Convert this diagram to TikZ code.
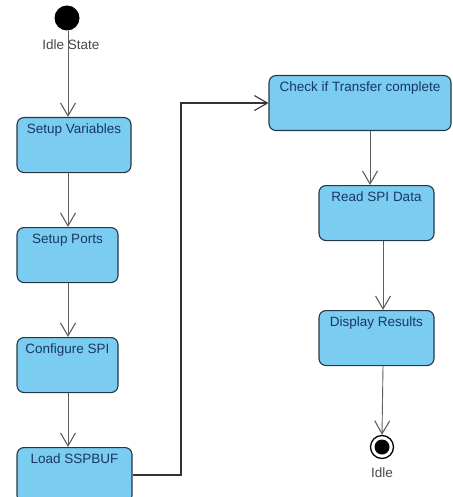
\documentclass[tikz,border=0pt]{standalone}
\usepackage{fontspec}
\setmainfont{Liberation Sans}
\usetikzlibrary{arrows.meta}
\definecolor{actfill}{RGB}{122,204,240}
\definecolor{actedge}{RGB}{40,55,70}
\definecolor{acttext}{RGB}{25,55,100}
\definecolor{flowgray}{RGB}{95,95,95}
\definecolor{labelgray}{RGB}{70,70,70}

\tikzset{
  activity/.style={draw=actedge, line width=1.1pt, fill=actfill, rounded corners=7pt,
    anchor=north, text=acttext, font=\fontsize{13.5}{15}\selectfont,
    inner xsep=2pt, inner ysep=0pt, text height=16pt, text depth=39pt,
    minimum width=#1},
  tip/.style={-{Straight Barb[length=13pt,width=15pt,line width=1.1pt]}},
  flow/.style={draw=flowgray, line width=0.9pt, tip},
  transfer/.style={draw=black!80, line width=1.1pt, tip},
  caption/.style={text=labelgray, font=\fontsize{13.5}{15}\selectfont},
  initial/.style={circle, fill=black, minimum size=25pt, inner sep=0pt},
  finalring/.style={circle, draw=black, line width=1.3pt, fill=white, minimum size=23pt, inner sep=0pt},
  finaldot/.style={circle, fill=black, minimum size=15pt, inner sep=0pt}
}

\begin{document}
\begin{tikzpicture}[x=1pt, y=-1pt]
  \clip (0,0) rectangle (452,497);
  \useasboundingbox (0,0) rectangle (452,497);

  % start state
  \node[initial] (start) at (67,18) {};
  \node[caption] (startlbl) at (71,45) {Idle State};

  % left column of actions
  \node[activity=114pt] (vars) at (74,117) {Setup Variables};
  \node[activity=101pt] (ports) at (67.5,227) {Setup Ports};
  \node[activity=101pt] (spi) at (67.5,337) {Configure SPI};
  \node[activity=115pt] (load) at (74.5,447) {Load SSPBUF};

  % right column of actions
  \node[activity=182pt] (check) at (360,75) {Check if Transfer complete};
  \node[activity=115pt] (read) at (376.5,185) {Read SPI Data};
  \node[activity=115pt] (show) at (376.5,310) {Display Results};

  % end state
  \node[finalring] (stop) at (382,447) {};
  \node[finaldot] (stopdot) at (stop) {};
  \node[caption] (stoplbl) at (382,473) {Idle};

  % control flows
  \coordinate (c1) at (68,0);
  \draw[flow] (c1 |- start.south) -- (c1 |- vars.north);
  \draw[flow] (c1 |- vars.south) -- (c1 |- ports.north);
  \draw[flow] (c1 |- ports.south) -- (c1 |- spi.north);
  \draw[flow] (c1 |- spi.south) -- (c1 |- load.north);

  \coordinate (turn) at (181,0);
  \draw[transfer] (load.east |- 0,475) -| (turn |- check.west) -- (check.west);

  \coordinate (c2) at (370,0);
  \coordinate (c3) at (383,0);
  \draw[flow] (c2 |- check.south) -- (c2 |- read.north);
  \draw[flow] (c3 |- read.south) -- (c3 |- show.north);
  \draw[flow] (c3 |- show.south) -- (stop.north);
\end{tikzpicture}
\end{document}
